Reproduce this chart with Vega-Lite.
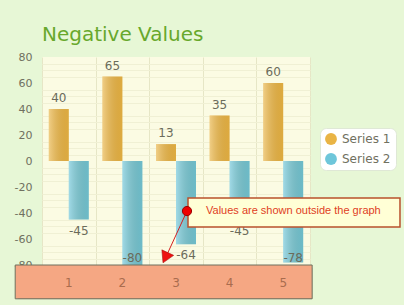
{
  "$schema": "https://vega.github.io/schema/vega-lite/v6.json",
  "width": 268,
  "height": 208,
  "autosize": {"type": "none"},
  "padding": {"left": 42, "top": 57, "right": 94, "bottom": 40},
  "background": "#e7f7d6",
  "config": {
    "view": {"fill": "#fbfbe3", "stroke": null},
    "font": "DejaVu Sans"
  },
  "title": {
    "text": "Negative Values",
    "anchor": "start",
    "frame": "group",
    "fontSize": 20,
    "fontWeight": "normal",
    "color": "#68a82c",
    "baseline": "alphabetic",
    "offset": -10
  },
  "datasets": {
    "bars": [
      {"cat": "1", "series": "Series 1", "value": 40},
      {"cat": "2", "series": "Series 1", "value": 65},
      {"cat": "3", "series": "Series 1", "value": 13},
      {"cat": "4", "series": "Series 1", "value": 35},
      {"cat": "5", "series": "Series 1", "value": 60},
      {"cat": "1", "series": "Series 2", "value": -45},
      {"cat": "2", "series": "Series 2", "value": -80},
      {"cat": "3", "series": "Series 2", "value": -64},
      {"cat": "4", "series": "Series 2", "value": -45},
      {"cat": "5", "series": "Series 2", "value": -78}
    ],
    "cats": [{"cat": "1"}, {"cat": "2"}, {"cat": "3"}, {"cat": "4"}, {"cat": "5"}],
    "note": [{"text": "Values are shown outside the graph"}]
  },
  "layer": [
    {
      "data": {"name": "cats"},
      "mark": {"type": "text", "text": ""},
      "encoding": {
        "x": {"datum": 0, "type": "quantitative", "scale": {"domain": [0, 5], "nice": false, "zero": false}, "axis": null},
        "y": {
          "datum": 0, "type": "quantitative", "scale": {"domain": [-80, 80], "nice": false}, "title": null,
          "axis": {
            "orient": "right", "values": [-75, -70, -65, -55, -50, -45, -35, -30, -25, -15, -10, -5, 5, 10, 15, 25, 30, 35, 45, 50, 55, 65, 70, 75],
            "labels": false, "ticks": false, "domain": false, "grid": true, "gridColor": "#f0f0d4", "title": null
          }
        }
      }
    },
    {
      "data": {"name": "bars"},
      "encoding": {
        "x": {
          "field": "cat", "type": "nominal",
          "scale": {"paddingInner": 0, "paddingOuter": 0},
          "axis": {"grid": true, "tickBand": "extent", "labels": false, "ticks": false, "domain": false, "title": null, "gridColor": "#e6e6c6"}
        },
        "xOffset": {"field": "series", "scale": {"paddingInner": 0, "paddingOuter": 0.34}},
        "y": {
          "field": "value", "type": "quantitative",
          "scale": {"domain": [-80, 80], "nice": false},
          "title": null,
          "axis": {
            "values": [-80, -60, -40, -20, 0, 20, 40, 60, 80],
            "labelExpr": "'' + datum.value",
            "labelOverlap": false,
            "ticks": false, "domain": false, "labelPadding": 10,
            "labelFontSize": 11, "labelColor": "#707060",
            "gridColor": "#e4e4c0"
          }
        }
      },
      "layer": [
        {
          "mark": {"type": "bar"},
          "encoding": {
            "color": {
              "field": "series", "type": "nominal",
              "scale": {"domain": ["Series 1", "Series 2"], "range": ["#e9b445", "#6ec6da"]},
              "legend": {
                "orient": "none", "legendX": 278, "legendY": 71,
                "title": null, "fillColor": "#ffffff", "strokeColor": "#dfe8d6",
                "cornerRadius": 6, "padding": 5, "symbolType": "circle", "symbolSize": 140,
                "symbolStrokeWidth": 0, "labelFontSize": 12, "labelColor": "#707060",
                "rowPadding": 8, "symbolOffset": 0, "labelOffset": 5
              }
            }
          }
        },
        {
          "mark": {
            "type": "bar",
            "fill": {"gradient": "linear", "x1": 0, "x2": 1, "y1": 0, "y2": 0,
              "stops": [{"offset": 0, "color": "rgba(255,255,255,0.35)"}, {"offset": 1, "color": "rgba(90,60,0,0.08)"}]}
          }
        },
        {
          "mark": {
            "type": "text", "baseline": "middle", "fontSize": 12, "color": "#6b6b5b",
            "dy": {"expr": "datum.value >= 0 ? -11 : min(11, 201 - scale('y', datum.value))"}
          },
          "encoding": {"text": {"field": "value", "type": "nominal"}}
        }
      ]
    },
    {
      "data": {"name": "cats"},
      "encoding": {
        "x": {"datum": -0.5, "type": "quantitative", "scale": {"domain": [0, 5], "nice": false, "zero": false}, "axis": null},
        "x2": {"datum": 5.04},
        "y": {"datum": -80, "type": "quantitative", "scale": {"domain": [-80, 80], "nice": false}, "title": null, "axis": null},
        "y2": {"datum": -106}
      },
      "layer": [
        {"transform": [{"filter": "datum.cat == '1'"}], "mark": {"type": "rect", "fill": "#5f6a55", "xOffset": 3, "yOffset": 3}},
        {"transform": [{"filter": "datum.cat == '1'"}], "mark": {"type": "rect", "fill": "#f5a783", "stroke": "#6f705f", "strokeWidth": 1}}
      ]
    },
    {
      "data": {"name": "cats"},
      "mark": {"type": "text", "fontSize": 12, "color": "#a96c4e", "baseline": "middle"},
      "encoding": {
        "x": {"field": "cat", "type": "nominal", "scale": {"paddingInner": 0, "paddingOuter": 0}, "axis": null},
        "y": {"datum": -93.5, "type": "quantitative", "scale": {"domain": [-80, 80], "nice": false}, "title": null, "axis": null},
        "text": {"field": "cat"}
      }
    },
    {
      "data": {"name": "note"},
      "encoding": {
        "x": {"datum": 2.724, "type": "quantitative", "scale": {"domain": [0, 5], "nice": false, "zero": false}, "axis": null},
        "y": {"datum": -28.5, "type": "quantitative", "scale": {"domain": [-80, 80], "nice": false}, "title": null, "axis": null}
      },
      "layer": [
        {
          "mark": {"type": "rect", "fill": "#c9b08c", "xOffset": 2, "yOffset": 2},
          "encoding": {"x2": {"datum": 6.679}, "y2": {"datum": -50.8}}
        },
        {
          "mark": {"type": "rect", "fill": "#ffffd6", "stroke": "#b9512d", "strokeWidth": 1.5},
          "encoding": {"x2": {"datum": 6.679}, "y2": {"datum": -50.8}}
        },
        {
          "mark": {"type": "text", "font": "Liberation Sans", "fontSize": 11, "color": "#e0401e", "baseline": "middle", "align": "center"},
          "encoding": {
            "x": {"datum": 4.69, "type": "quantitative", "scale": {"domain": [0, 5], "nice": false, "zero": false}, "axis": null},
            "y": {"datum": -38.5, "type": "quantitative", "scale": {"domain": [-80, 80], "nice": false}, "title": null, "axis": null},
            "text": {"field": "text"}
          }
        },
        {
          "mark": {"type": "rule", "color": "#d42020", "strokeWidth": 1},
          "encoding": {
            "x": {"datum": 2.705, "type": "quantitative", "scale": {"domain": [0, 5], "nice": false, "zero": false}, "axis": null},
            "x2": {"datum": 2.31},
            "y": {"datum": -38.5, "type": "quantitative", "scale": {"domain": [-80, 80], "nice": false}, "title": null, "axis": null},
            "y2": {"datum": -74}
          }
        },
        {
          "mark": {"type": "point", "shape": "triangle-up", "filled": true, "fill": "#ee1010", "stroke": "#a01010", "strokeWidth": 0.5, "size": 170, "angle": 205, "opacity": 1},
          "encoding": {
            "x": {"datum": 2.302, "type": "quantitative", "scale": {"domain": [0, 5], "nice": false, "zero": false}, "axis": null},
            "y": {"datum": -74.4, "type": "quantitative", "scale": {"domain": [-80, 80], "nice": false}, "title": null, "axis": null}
          }
        },
        {
          "mark": {"type": "point", "shape": "circle", "filled": true, "fill": "#ee0000", "stroke": "#9a0000", "strokeWidth": 1, "size": 85, "opacity": 1},
          "encoding": {
            "x": {"datum": 2.705, "type": "quantitative", "scale": {"domain": [0, 5], "nice": false, "zero": false}, "axis": null},
            "y": {"datum": -38.5, "type": "quantitative", "scale": {"domain": [-80, 80], "nice": false}, "title": null, "axis": null}
          }
        }
      ]
    }
  ],
  "resolve": {"scale": {"x": "independent"}, "axis": {"y": "independent"}}
}
